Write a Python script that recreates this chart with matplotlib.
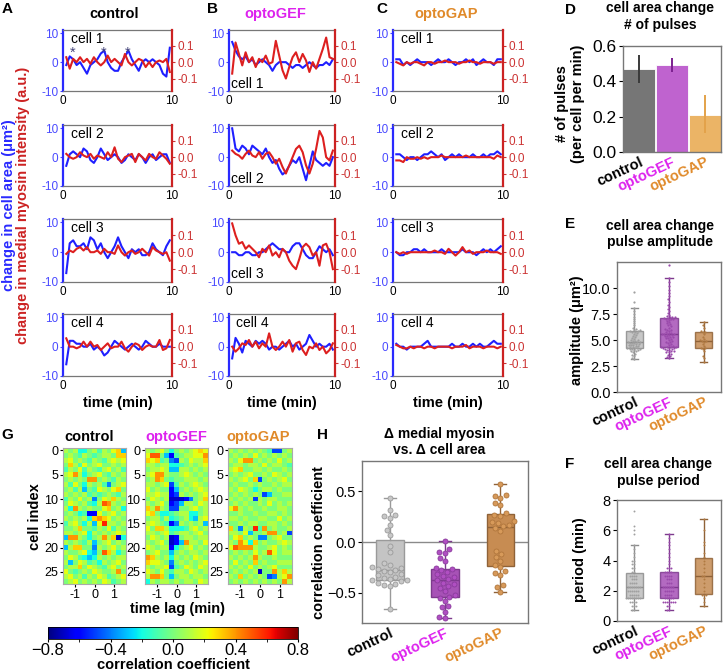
import numpy as np
import pandas as pd
import matplotlib
matplotlib.use('Agg')
import matplotlib.pyplot as plt
import seaborn as sns
from matplotlib.ticker import FixedLocator

plt.rcParams['font.family'] = ['Liberation Sans', 'DejaVu Sans']

# ---------------- data ----------------
groups = ['control', 'optoGEF', 'optoGAP']
group_text_colors = ['black', '#dd22ee', '#e08a2a']

time_min = np.linspace(0.3, 9.8, 31)
cell_names = ['cell 1', 'cell 2', 'cell 3', 'cell 4']
pulse_times = [0.85, 3.7, 5.9]   # asterisks on control cell 1

# change in cell area (um^2), 4 cells per group
ctrl_area = [
    [-1, 2, 1, -1, 0, -2, -4, -1, 0, 1, 3, 4, 0, -2, -3, -3, 0, 2, 4, 1, -1, -3, 0, 1, 0, 1, 0, -1, -4, -5, 5],
    [-3, 1, 2, 1, 0, 3, 2, -1, -2, 0, 3, 1, -1, 0, 1, 0, -2, -1, 1, 0, -1, 1, 0, -2, 0, 1, -1, 0, 1, 1, -2],
    [-7, 3, 4, 2, 2, 3, 1, 5, 4, 1, 3, 0, -2, 0, 2, 5, 2, 0, -2, 1, 0, 1, -1, -1, 0, 3, 1, 0, -1, 2, 4],
    [-6, 2, 2, 1, 1, 0, 0, 1, -1, 0, -1, -3, -2, 0, 2, 1, 0, -1, 0, 1, 0, -1, 0, 2, 1, 0, 0, 1, 0, 0, 0],
]
gef_area = [
    [7, 4, 2, 1, 2, 0, 1, -1, 0, 1, 0, -1, -3, -1, 0, 0, 0, -1, -2, -1, -1, -2, -1, 0, -1, -2, -1, -1, 0, -1, 1],
    [10, 3, 2, 4, 3, 1, 4, 3, 2, 1, 3, 0, -2, -1, -4, -6, -5, -3, -1, -2, 0, -4, -8, -3, 2, -1, -2, -3, -2, -3, 0],
    [0, 0, -1, -1, 0, 0, -1, -1, 0, 0, 1, 2, 3, 2, 1, 1, 0, 0, 2, 3, 3, 1, -1, -2, -2, 0, 2, 1, 0, 1, -1],
    [-4, 3, 1, -2, 2, 1, 0, 2, 1, 2, 1, -1, 0, 0, -1, 0, 1, 2, 0, 1, -1, 0, 1, 4, 2, 0, 1, 0, 0, 1, -1],
]
gap_area = [
    [1, 1, -1, 0, -1, 0, 1, 0, 0, 0, -1, 0, 1, 0, 0, 1, 0, -1, 0, 0, 1, 0, 1, -1, 0, 1, 0, 0, -1, 1, 1],
    [1, 1, 0, -1, 0, 0, -1, 0, 1, 1, 2, 1, 0, 1, -1, 0, 1, 0, 1, 0, 0, 0, 1, 0, 0, 1, 0, 1, 1, 2, 1],
    [0, -1, -1, 0, 0, 1, 1, 0, 1, 0, 0, 0, 0, 1, 0, 0, 0, 0, 0, 1, 0, 0, 0, -1, 0, 1, 0, 1, 0, 1, 2],
    [1, 0, 0, -1, 0, 0, 0, 0, 1, 2, 0, 0, 0, 0, 0, 0, 1, 0, 0, 1, 0, 0, 1, 0, 1, 0, 0, 1, 2, 1, 1],
]
# change in medial myosin intensity (a.u.)
ctrl_myo = [
    [0.03, -0.04, 0.02, 0.0, 0.03, 0.0, 0.02, -0.01, 0.03, 0.0, -0.02, 0.0, 0.04, 0.0, 0.02, 0.0, -0.02, 0.05, 0.0, -0.02, 0.0, 0.02, 0.01, -0.03, 0.0, -0.03, 0.0, 0.01, 0.0, 0.02, -0.06],
    [0.02, 0.0, -0.01, 0.0, 0.03, 0.01, 0.0, 0.02, -0.01, 0.01, 0.0, -0.01, 0.03, 0.0, 0.06, -0.01, -0.03, 0.0, 0.01, 0.02, -0.03, 0.02, 0.0, -0.02, 0.02, 0.0, -0.01, 0.03, 0.01, -0.01, -0.04],
    [-0.01, 0.01, 0.0, 0.02, 0.03, 0.01, 0.03, 0.0, 0.0, 0.01, -0.01, 0.02, 0.0, 0.0, -0.01, 0.04, 0.0, -0.02, 0.0, 0.01, -0.01, 0.0, 0.02, 0.0, -0.02, 0.03, 0.01, 0.0, -0.01, 0.0, -0.05],
    [0.05, 0.0, 0.0, -0.01, 0.0, 0.03, 0.0, 0.03, 0.0, 0.01, -0.02, 0.0, 0.02, -0.01, 0.0, 0.0, 0.03, -0.01, -0.03, 0.0, 0.02, 0.01, -0.02, 0.0, 0.01, 0.0, 0.0, 0.04, -0.02, -0.01, 0.04],
]
gef_myo = [
    [-0.07, 0.12, 0.05, -0.02, 0.06, 0.0, 0.03, -0.03, 0.02, 0.0, 0.04, -0.01, 0.0, 0.13, 0.04, -0.05, -0.1, -0.03, 0.03, 0.06, 0.0, 0.05, 0.01, -0.06, 0.0, -0.04, 0.02, 0.08, 0.15, 0.03, 0.02],
    [0.04, 0.02, 0.01, -0.01, 0.02, 0.04, 0.01, 0.0, 0.03, -0.01, 0.02, 0.03, 0.0, -0.04, -0.01, -0.06, -0.1, -0.05, 0.0, 0.05, 0.07, 0.03, -0.05, -0.1, -0.04, 0.05, 0.16, 0.12, 0.0, -0.02, 0.04],
    [0.17, 0.1, 0.05, 0.06, 0.02, 0.04, 0.02, 0.0, -0.03, 0.02, 0.0, 0.04, -0.02, 0.0, -0.03, 0.02, 0.0, -0.05, -0.08, -0.1, -0.04, 0.03, 0.05, 0.03, -0.02, 0.0, -0.08, 0.04, 0.05, 0.0, -0.1],
    [0.0, -0.03, -0.01, 0.02, 0.01, 0.04, 0.0, 0.03, -0.01, 0.02, 0.0, 0.08, 0.0, -0.02, 0.0, 0.03, 0.0, 0.04, -0.03, 0.02, 0.03, -0.02, -0.05, 0.0, -0.01, 0.02, -0.02, 0.0, -0.04, -0.02, 0.02],
]
gap_myo = [
    [0.0, -0.01, -0.02, 0.0, -0.01, 0.0, 0.0, -0.01, -0.02, 0.0, 0.0, -0.01, 0.0, 0.0, 0.01, 0.0, 0.0, 0.0, -0.01, 0.0, 0.0, 0.01, 0.0, 0.0, -0.01, 0.0, 0.0, 0.0, -0.01, 0.0, 0.0],
    [-0.02, -0.02, -0.03, 0.0, -0.01, -0.01, 0.0, -0.01, 0.0, -0.01, 0.0, 0.0, 0.0, 0.01, 0.0, 0.0, 0.0, 0.0, 0.0, 0.0, 0.01, 0.0, 0.0, 0.0, 0.0, 0.0, 0.0, 0.0, -0.01, 0.01, 0.0],
    [0.0, -0.01, 0.0, -0.01, 0.0, 0.0, 0.0, 0.0, 0.0, 0.0, 0.0, 0.01, 0.0, 0.0, -0.01, 0.02, 0.0, -0.02, 0.0, 0.03, 0.0, 0.01, -0.01, 0.0, 0.0, 0.0, 0.01, 0.0, 0.0, 0.0, -0.01],
    [0.01, 0.0, -0.01, -0.01, 0.0, -0.01, 0.0, 0.0, -0.01, 0.0, 0.0, -0.01, 0.0, 0.0, 0.0, 0.0, -0.01, 0.0, 0.0, 0.0, 0.01, -0.01, 0.0, 0.0, 0.0, -0.01, 0.0, 0.0, 0.0, -0.01, 0.0],
]

# D: pulses per cell per min
pulse_mean = [0.47, 0.49, 0.21]
pulse_lo = [0.39, 0.45, 0.11]
pulse_hi = [0.55, 0.53, 0.32]

# E: pulse amplitude (um^2)
ctrl_amp = [3.2, 3.3, 3.5, 3.6, 3.7, 3.8, 3.9, 3.9, 4.0, 4.0, 4.1, 4.1, 4.1, 4.2, 4.2, 4.2, 4.3, 4.3, 4.4, 4.4,
            4.5, 4.5, 4.5, 4.6, 4.6, 4.7, 4.7, 4.7, 4.8, 4.8, 4.8, 4.9, 4.9, 5.0, 5.0, 5.1, 5.2, 5.3, 5.4, 5.5,
            5.6, 5.7, 5.8, 5.8, 5.9, 5.9, 6.0, 6.0, 6.1, 6.2, 6.4, 6.6, 6.8, 7.0, 7.2, 7.5, 7.8, 8.1, 8.7, 9.6]
gef_amp = [3.3, 3.4, 3.5, 3.6, 3.7, 3.8, 3.8, 3.9, 3.9, 4.0, 4.0, 4.1, 4.1, 4.2, 4.2, 4.2, 4.3, 4.3, 4.3, 4.3,
           4.4, 4.5, 4.6, 4.7, 4.8, 4.9, 5.0, 5.1, 5.2, 5.3, 5.3, 5.4, 5.4, 5.5, 5.5, 5.6, 5.6, 5.6, 5.6, 5.7,
           5.7, 5.8, 5.9, 6.0, 6.1, 6.2, 6.3, 6.4, 6.5, 6.6, 6.7, 6.8, 6.9, 7.0, 7.0, 7.1, 7.1, 7.2, 7.2, 7.2,
           7.3, 7.4, 7.6, 7.8, 8.0, 8.2, 8.4, 8.7, 8.9, 9.2, 9.5, 9.8, 10.2, 10.6, 11.0, 12.2, 6.0, 5.2, 4.8, 7.0]
gap_amp = [2.9, 3.3, 3.5, 3.9, 4.1, 4.2, 4.2, 4.4, 4.6, 4.8, 4.9, 4.9, 5.0, 5.1, 5.3, 5.6, 5.8, 5.8, 5.9, 6.2, 6.4, 6.7]

# F: pulse period (min)
ctrl_period = [0.75, 0.75, 1.0, 1.0, 1.0, 1.25, 1.25, 1.25, 1.25, 1.5, 1.5, 1.5, 1.5, 1.5, 1.5, 1.5, 1.5,
               1.75, 1.75, 1.75, 1.75, 1.75, 2.0, 2.0, 2.0, 2.0, 2.0, 2.0, 2.25, 2.25, 2.25, 2.25, 2.25, 2.25,
               2.25, 2.5, 2.5, 2.5, 2.5, 2.75, 2.75, 2.75, 3.0, 3.0, 3.0, 3.0, 3.25, 3.25, 3.5, 3.5, 3.75,
               3.75, 4.0, 4.0, 4.25, 4.5, 4.75, 5.0, 5.75, 6.0, 6.25, 7.25]
gef_period = [0.75, 0.75, 1.0, 1.0, 1.25, 1.25, 1.25, 1.25, 1.25, 1.25, 1.25, 1.5, 1.5, 1.5, 1.5, 1.5,
              1.75, 1.75, 1.75, 1.75, 2.0, 2.0, 2.0, 2.0, 2.0, 2.25, 2.25, 2.25, 2.25, 2.25, 2.25, 2.5,
              2.5, 2.5, 2.75, 2.75, 2.75, 3.0, 3.0, 3.0, 3.0, 3.25, 3.25, 3.25, 3.25, 3.5, 3.5, 3.5, 3.75,
              4.0, 4.25, 4.5, 4.75, 5.0, 5.25, 5.5, 5.75]
gap_period = [1.0, 1.25, 1.5, 1.75, 1.75, 1.75, 2.0, 2.25, 2.5, 2.75, 3.0, 3.0, 3.25, 3.5, 3.75, 4.0,
              4.25, 4.5, 5.0, 5.25, 6.0, 6.75]

# H: correlation coefficient, medial myosin vs cell area
ctrl_corr = [0.43, 0.32, 0.27, 0.26, 0.24, 0.17, 0.12, 0.07, -0.04, -0.10, -0.21, -0.23, -0.25, -0.26,
             -0.27, -0.28, -0.29, -0.30, -0.32, -0.33, -0.35, -0.36, -0.37, -0.38, -0.38, -0.39, -0.40,
             -0.41, -0.42, -0.43, -0.66]
gef_corr = [0.01, -0.07, -0.10, -0.11, -0.16, -0.19, -0.26, -0.27, -0.28, -0.30, -0.32, -0.34, -0.35,
            -0.37, -0.38, -0.40, -0.41, -0.43, -0.45, -0.48, -0.52, -0.54, -0.55, -0.58, -0.63, -0.64,
            -0.69, -0.74, -0.75]
gap_corr = [0.57, 0.46, 0.45, 0.43, 0.39, 0.37, 0.29, 0.27, 0.26, 0.21, 0.20, 0.19, 0.17, 0.16, 0.14,
            0.11, -0.09, -0.12, -0.15, -0.19, -0.23, -0.25, -0.29, -0.31, -0.33, -0.42, -0.44, -0.49]

# G: cross-correlation per cell (rows) vs time lag (columns)
lag_min = [-1.5, -1.25, -1.0, -0.75, -0.5, -0.25, 0.0, 0.25, 0.5, 0.75, 1.0, 1.25, 1.5]
ctrl_xcorr = [
    [0.1, 0.0, 0.1, -0.2, -0.2, 0.0, 0.1, -0.1, 0.1, 0.0, 0.2, 0.3, -0.3],
    [0.0, 0.1, 0.0, -0.1, 0.1, 0.0, -0.1, 0.0, 0.1, 0.1, 0.0, 0.3, 0.3],
    [0.1, 0.2, 0.0, 0.1, 0.0, -0.1, 0.1, 0.0, -0.1, 0.1, 0.2, 0.1, 0.2],
    [0.0, 0.3, 0.1, -0.1, 0.2, 0.0, 0.1, 0.2, 0.0, 0.0, 0.1, 0.0, 0.1],
    [-0.1, 0.1, 0.0, 0.2, -0.1, 0.1, 0.0, -0.1, 0.1, 0.2, 0.0, 0.1, -0.1],
    [0.1, 0.2, 0.4, 0.1, -0.2, 0.0, 0.1, 0.2, 0.0, -0.1, 0.1, 0.0, 0.1],
    [0.0, 0.1, 0.0, 0.1, 0.0, 0.4, 0.4, 0.0, 0.1, 0.0, -0.1, 0.1, 0.0],
    [0.1, -0.1, 0.2, 0.0, -0.2, 0.1, 0.0, 0.1, -0.1, -0.4, 0.0, 0.1, 0.2],
    [0.0, 0.1, -0.1, 0.1, -0.3, 0.0, -0.1, 0.2, 0.1, 0.0, 0.2, 0.3, 0.0],
    [0.1, 0.0, 0.1, 0.0, 0.1, -0.1, 0.0, -0.1, 0.0, 0.1, 0.0, -0.1, 0.1],
    [-0.1, 0.1, 0.0, 0.2, 0.0, 0.1, -0.4, 0.0, 0.2, 0.1, 0.3, 0.1, 0.0],
    [0.0, 0.2, 0.1, 0.0, 0.1, -0.1, -0.2, 0.1, 0.5, 0.4, 0.1, 0.0, 0.1],
    [0.1, -0.2, 0.4, 0.1, 0.0, 0.1, 0.0, 0.0, 0.2, 0.3, 0.0, 0.1, -0.2],
    [0.0, 0.1, 0.0, -0.2, -0.1, -0.6, -0.6, 0.2, 0.0, 0.1, 0.2, 0.0, 0.1],
    [0.1, 0.0, 0.1, 0.0, 0.1, -0.2, 0.3, 0.4, 0.3, 0.2, 0.0, 0.1, 0.0],
    [-0.1, 0.1, 0.2, 0.0, -0.2, 0.1, -0.3, 0.2, 0.6, 0.1, 0.1, 0.0, 0.1],
    [0.0, 0.0, 0.1, 0.3, 0.0, 0.0, -0.1, 0.1, 0.0, 0.2, -0.1, 0.1, 0.0],
    [0.1, 0.1, 0.0, 0.1, 0.2, -0.2, 0.1, 0.0, 0.1, 0.0, 0.1, 0.2, 0.1],
    [-0.3, 0.4, 0.4, 0.1, 0.0, -0.2, 0.0, 0.1, 0.4, 0.1, 0.3, -0.7, -0.2],
    [0.1, 0.0, 0.1, 0.0, -0.1, 0.1, -0.3, 0.0, 0.1, 0.2, 0.0, 0.1, 0.0],
    [-0.3, 0.1, 0.3, 0.3, 0.0, 0.0, -0.4, 0.1, 0.0, 0.1, 0.2, 0.0, 0.1],
    [0.1, 0.0, 0.0, 0.1, 0.2, -0.2, -0.3, 0.0, 0.5, 0.3, 0.1, -0.2, 0.0],
    [0.0, 0.2, 0.1, -0.1, -0.2, -0.3, -0.2, 0.1, 0.0, 0.1, 0.0, 0.1, 0.1],
    [0.1, -0.3, 0.0, 0.2, 0.1, -0.1, 0.0, -0.2, 0.1, 0.0, 0.1, 0.2, 0.0],
    [0.0, 0.1, 0.1, 0.3, 0.0, 0.2, 0.1, 0.0, -0.1, 0.1, 0.2, 0.0, 0.1],
    [0.2, 0.0, -0.1, 0.0, 0.1, 0.0, 0.2, 0.1, 0.0, 0.0, 0.1, 0.4, 0.0],
    [0.1, 0.2, 0.0, 0.1, -0.1, 0.1, 0.0, 0.2, 0.1, -0.1, 0.0, 0.1, 0.2],
    [0.0, 0.1, 0.2, 0.0, 0.1, 0.0, 0.1, 0.0, 0.2, 0.1, -0.1, 0.0, 0.1],
]
gef_xcorr = [
    [0.1, 0.0, 0.1, 0.2, 0.0, -0.2, 0.0, 0.1, 0.0, 0.1, 0.2, 0.3, 0.2],
    [0.2, 0.5, 0.5, 0.0, -0.3, -0.6, -0.1, 0.0, 0.1, 0.1, 0.2, 0.2, 0.4],
    [0.3, 0.2, 0.3, -0.1, 0.0, -0.4, -0.5, 0.1, 0.0, 0.2, 0.1, 0.1, 0.3],
    [0.1, 0.1, 0.0, 0.1, 0.1, -0.2, -0.2, -0.1, 0.0, 0.1, 0.0, 0.1, 0.2],
    [0.0, 0.1, 0.1, 0.2, 0.1, -0.3, -0.3, 0.1, 0.1, 0.0, 0.1, 0.0, 0.1],
    [0.1, 0.2, 0.4, 0.4, 0.1, 0.0, 0.0, 0.1, 0.2, 0.1, 0.0, 0.1, 0.0],
    [0.0, 0.1, 0.4, 0.3, 0.0, -0.1, 0.0, 0.0, 0.1, 0.1, 0.1, 0.0, 0.1],
    [0.1, 0.1, 0.0, 0.1, 0.2, -0.5, -0.1, 0.1, 0.0, 0.1, 0.2, 0.1, 0.0],
    [0.2, 0.0, 0.1, 0.0, 0.0, -0.6, -0.3, 0.0, 0.1, 0.0, 0.1, 0.2, 0.1],
    [0.1, 0.1, 0.2, 0.1, 0.1, -0.6, -0.5, 0.1, 0.0, 0.1, 0.0, 0.1, 0.2],
    [0.0, 0.2, 0.1, 0.0, 0.1, -0.7, -0.7, -0.7, -0.6, -0.4, 0.0, 0.1, 0.3],
    [0.1, 0.0, 0.1, 0.2, 0.0, -0.6, -0.5, -0.3, 0.1, 0.1, 0.0, 0.2, 0.1],
    [0.3, 0.1, 0.4, 0.1, 0.0, -0.5, -0.5, 0.0, 0.0, 0.1, 0.2, 0.0, 0.1],
    [0.2, 0.3, 0.0, -0.2, -0.2, -0.1, 0.0, 0.1, 0.1, -0.2, -0.2, 0.0, 0.1],
    [0.0, 0.1, 0.1, -0.1, 0.1, -0.2, -0.1, 0.0, 0.1, -0.2, -0.3, 0.1, 0.2],
    [0.1, 0.2, 0.1, 0.0, -0.1, -0.6, -0.4, 0.1, 0.0, 0.1, 0.0, 0.1, -0.3],
    [0.2, 0.0, 0.3, 0.3, 0.1, -0.2, -0.2, -0.2, -0.1, 0.1, 0.2, 0.0, 0.1],
    [0.1, 0.1, 0.0, 0.1, 0.2, -0.1, 0.0, 0.1, 0.1, 0.0, 0.1, 0.2, 0.0],
    [0.0, 0.2, 0.1, 0.0, 0.1, -0.7, -0.6, 0.0, 0.1, 0.1, 0.0, 0.1, 0.1],
    [0.1, 0.0, 0.1, 0.2, 0.0, -0.7, -0.6, -0.3, 0.4, 0.1, 0.1, 0.0, 0.2],
    [0.2, 0.1, 0.0, 0.1, 0.1, -0.6, -0.2, 0.0, 0.1, 0.2, 0.0, 0.1, 0.0],
    [0.0, 0.1, 0.2, 0.0, 0.0, -0.3, 0.0, 0.1, 0.0, 0.1, 0.1, 0.0, 0.1],
    [0.4, 0.3, 0.1, 0.0, 0.1, -0.2, 0.1, 0.0, 0.1, 0.0, 0.2, 0.1, 0.0],
    [0.3, 0.2, 0.2, 0.1, 0.0, -0.4, 0.0, 0.1, 0.0, 0.1, 0.0, 0.1, 0.2],
    [0.1, 0.0, 0.1, 0.1, 0.2, -0.5, -0.1, 0.0, 0.2, 0.1, 0.0, 0.2, 0.1],
    [0.2, 0.1, 0.0, 0.2, 0.0, -0.1, 0.1, 0.1, 0.0, 0.2, 0.1, 0.0, 0.1],
    [0.1, 0.4, 0.4, 0.3, 0.0, -0.3, 0.0, 0.1, 0.1, 0.0, 0.1, 0.1, 0.0],
    [-0.2, 0.1, 0.0, 0.1, 0.1, 0.0, 0.1, 0.0, 0.1, 0.1, 0.0, 0.2, 0.1],
]
gap_xcorr = [
    [0.1, 0.0, 0.1, 0.0, 0.1, 0.0, 0.1, 0.0, -0.1, -0.5, -0.5, 0.0, 0.1],
    [0.0, 0.1, 0.0, 0.1, 0.0, 0.2, 0.0, 0.1, 0.0, 0.1, 0.0, 0.1, 0.0],
    [0.1, 0.0, 0.2, 0.4, 0.4, 0.0, 0.1, 0.0, 0.1, 0.0, 0.2, 0.0, 0.1],
    [0.0, 0.1, 0.1, 0.0, 0.1, 0.1, 0.0, 0.2, 0.0, 0.1, 0.1, 0.0, -0.1],
    [0.1, 0.2, 0.3, 0.0, 0.0, 0.1, 0.1, 0.0, 0.1, 0.0, 0.0, 0.1, 0.0],
    [0.0, 0.1, 0.0, 0.1, 0.2, 0.0, 0.0, 0.1, 0.0, 0.2, 0.1, 0.0, 0.1],
    [0.1, 0.0, 0.1, 0.2, 0.0, 0.3, -0.5, 0.0, 0.1, 0.0, 0.1, 0.2, 0.0],
    [0.0, 0.1, 0.0, 0.0, 0.1, 0.0, 0.1, 0.0, 0.0, 0.1, 0.0, 0.1, 0.1],
    [0.1, 0.0, 0.2, 0.1, 0.0, -0.2, 0.0, 0.1, 0.1, 0.0, 0.1, 0.0, 0.0],
    [0.0, 0.1, 0.0, 0.1, 0.0, 0.1, 0.0, -0.5, -0.3, 0.0, 0.0, 0.1, 0.1],
    [0.1, 0.0, 0.1, 0.0, 0.1, -0.5, 0.1, 0.0, 0.1, 0.1, 0.0, 0.0, 0.0],
    [0.0, 0.1, 0.0, 0.1, 0.0, 0.0, 0.1, 0.0, 0.2, 0.0, 0.1, 0.0, 0.1],
    [0.2, 0.4, 0.1, 0.0, 0.1, 0.0, 0.0, 0.1, 0.0, 0.0, 0.1, 0.1, 0.0],
    [0.0, 0.0, 0.1, 0.0, 0.0, 0.1, 0.0, 0.0, 0.1, 0.1, 0.0, 0.1, 0.0],
    [0.1, 0.1, 0.0, 0.1, 0.0, 0.0, 0.1, 0.1, 0.0, 0.0, 0.2, 0.0, 0.1],
    [0.0, 0.0, 0.1, 0.0, 0.1, 0.1, 0.0, 0.0, 0.1, 0.1, 0.0, 0.1, 0.0],
    [0.3, 0.0, -0.4, 0.1, 0.0, 0.6, -0.1, 0.4, 0.0, 0.1, 0.0, 0.0, 0.1],
    [0.1, 0.1, 0.0, 0.2, -0.3, 0.0, 0.0, 0.1, 0.4, 0.4, 0.0, 0.1, -0.5],
    [0.0, 0.2, 0.3, 0.0, 0.1, 0.0, -0.4, -0.4, 0.0, 0.1, 0.2, 0.0, 0.0],
    [0.1, 0.0, 0.4, 0.2, -0.2, 0.3, 0.0, 0.1, 0.0, 0.0, 0.1, 0.2, 0.1],
    [0.2, 0.5, 0.4, 0.4, 0.4, 0.1, 0.0, 0.0, 0.1, 0.2, 0.0, 0.1, 0.0],
    [0.0, 0.1, 0.0, 0.1, 0.0, 0.2, 0.0, 0.1, 0.5, 0.2, 0.0, 0.1, 0.1],
    [0.1, 0.0, 0.1, 0.0, 0.1, 0.4, 0.1, 0.0, 0.0, 0.1, 0.0, 0.0, 0.0],
    [0.0, 0.2, 0.0, 0.1, 0.0, 0.3, 0.0, 0.1, 0.0, 0.0, 0.1, 0.1, 0.1],
    [0.1, 0.0, 0.1, 0.0, 0.2, 0.0, 0.1, 0.0, 0.1, 0.2, 0.0, 0.0, 0.0],
    [0.0, 0.1, 0.0, 0.1, 0.0, 0.1, -0.7, 0.0, 0.0, 0.4, 0.1, 0.3, 0.1],
    [0.1, 0.0, 0.3, 0.0, 0.1, 0.0, 0.1, 0.0, -0.5, -0.4, 0.1, 0.2, 0.4],
    [0.0, 0.1, 0.0, 0.1, 0.0, 0.1, 0.0, 0.1, 0.0, 0.1, 0.0, 0.4, 0.1],
]

# ---------------- figure ----------------
W, H = 727, 671
fig = plt.figure(figsize=(W / 100, H / 100), dpi=100)


def add_ax(x0, y0, x1, y1):
    # pixel box (top-left origin) -> figure fraction
    return fig.add_axes([x0 / W, 1 - y1 / H, (x1 - x0) / W, (y1 - y0) / H])


def ftext(x, y, s, **kw):
    fig.text(x / W, 1 - y / H, s, **kw)


BLUE, RED = '#1f1fff', '#dd1f1f'
GRAY_SPINE = '#777777'

# ---- A, B, C: time traces ----
col_x = [(63, 172), (229, 335), (393, 503)]
row_y = [(30, 91), (125, 186), (219, 282), (314, 376)]
area_sets = [ctrl_area, gef_area, gap_area]
myo_sets = [ctrl_myo, gef_myo, gap_myo]
title_x = [114, 275, 446]

for gi in range(3):
    x0, x1 = col_x[gi]
    for ci in range(4):
        y0, y1 = row_y[ci]
        ax = add_ax(x0, y0, x1, y1)
        ax2 = ax.twinx()
        ax.plot(time_min, area_sets[gi][ci], color=BLUE, lw=1.5)
        ax2.plot(time_min, myo_sets[gi][ci], color=RED, lw=1.5)
        ax.set_xlim(0, 10)
        ax.set_ylim(-10, 11.15)
        ax2.set_ylim(-0.176, 0.196)
        ax.set_xticks([0, 10], ['0', '10'])
        ax.set_yticks([-10, 0, 10], ['-10', '0', '10'])
        ax2.set_yticks([-0.1, 0, 0.1], ['-0.1', '0.0', '0.1'])
        ax.tick_params(axis='x', length=0, labelsize=8.5, pad=3)
        ax.tick_params(axis='y', colors='#4a4aff', labelsize=8.5, length=2, pad=1.5)
        ax2.tick_params(axis='y', colors='#cc3333', labelsize=8.5, length=2, pad=2)
        for s in ['top', 'bottom']:
            ax.spines[s].set_color(GRAY_SPINE)
            ax.spines[s].set_linewidth(0.9)
        ax.spines['left'].set_color('#2a2aff')
        ax.spines['left'].set_linewidth(1.6)
        ax.spines['right'].set_visible(False)
        for s in ['left', 'top', 'bottom']:
            ax2.spines[s].set_visible(False)
        ax2.spines['right'].set_color('#cc2222')
        ax2.spines['right'].set_linewidth(1.6)
        if gi == 1 and ci < 3:
            ax.text(0.02, 0.12, cell_names[ci], transform=ax.transAxes, fontsize=10, va='center')
        else:
            ax.text(0.07, 0.86, cell_names[ci], transform=ax.transAxes, fontsize=10, va='center')
        if gi == 0 and ci == 0:
            # drawn on the twin axes (with the area scale) so they stay above both traces
            for pt in pulse_times:
                ax2.text(pt, 3.2, '*', transform=ax.transData, color='#44447a', fontsize=10.5,
                         ha='center', va='center', zorder=10)
        if ci == 3:
            ax.set_xlabel('time (min)', fontsize=10.5, fontweight='bold', labelpad=3)
    ftext(title_x[gi], 14, groups[gi], color=group_text_colors[gi], fontsize=10.5,
          fontweight='bold', ha='center', va='center')

ftext(9, 205, 'change in cell area (μm²)', color='#2a2aff', fontsize=10.5, fontweight='bold',
      rotation=90, ha='center', va='center')
ftext(23, 205, 'change in medial myosin intensity (a.u.)', color='#cc2222', fontsize=10.5,
      fontweight='bold', rotation=90, ha='center', va='center')

# panel letters
for letter, (lx, ly) in zip('ABCDEFGH', [(7.5, 9), (213, 9), (382, 9), (571, 9.5), (570, 224),
                                          (570, 464), (7.5, 435), (322, 435)]):
    ftext(lx, ly, letter, fontsize=11, fontweight='bold', ha='center', va='center')


def style_box_axes(ax, labelsize):
    for s in ax.spines.values():
        s.set_color(GRAY_SPINE)
        s.set_linewidth(1.0)
    ax.tick_params(axis='y', labelsize=labelsize, length=3, pad=1.5)
    ax.tick_params(axis='x', length=0, pad=2)


def set_group_ticklabels(ax, size=10.5):
    ax.set_xticks([0, 1, 2])
    ax.set_xticklabels(groups, rotation=25, ha='right', rotation_mode='anchor',
                       fontweight='bold', fontsize=size)
    for lab, c in zip(ax.get_xticklabels(), group_text_colors):
        lab.set_color(c)
    ax.set_xlim(-0.5, 2.5)
    ax.set_xlabel('')


# ---- D: bar chart ----
axD = add_ax(623, 46, 721, 152)
axD.bar(range(3), pulse_mean, width=0.97, color=['#767676', '#bf63cf', '#ebb466'],
        edgecolor='white', linewidth=0.6)
axD.vlines(range(3), pulse_lo, pulse_hi, colors=['#3a3a3a', '#7c2090', '#e3a24a'], lw=1.4)
axD.set_ylim(0, 0.6)
axD.set_yticks([0.0, 0.2, 0.4, 0.6])
style_box_axes(axD, 12.5)
set_group_ticklabels(axD)
ftext(660, 8, 'cell area change', fontsize=10, fontweight='bold', ha='center', va='center')
ftext(660, 25, '# of pulses', fontsize=10, fontweight='bold', ha='center', va='center')
ftext(570, 104, '# of pulses\n(per cell per min)', fontsize=10.5, fontweight='bold',
      rotation=90, ha='center', va='center', linespacing=1.1)


def draw_boxes(ax, datasets, faces, edges, alpha):
    for i in range(3):
        ax.boxplot([datasets[i]], positions=[i], widths=0.5, patch_artist=True, showfliers=False,
                   manage_ticks=False, capwidths=0.22,
                   boxprops=dict(facecolor=faces[i], edgecolor=edges[i], alpha=alpha, lw=1),
                   medianprops=dict(color=edges[i], lw=1),
                   whiskerprops=dict(color=edges[i], lw=1),
                   capprops=dict(color=edges[i], lw=1))


def draw_swarm(ax, datasets, faces, edges, size, lw):
    for i in range(3):
        sns.swarmplot(x=[groups[i]] * len(datasets[i]), y=datasets[i], order=groups,
                      color=faces[i], edgecolor=edges[i], linewidth=lw, size=size, ax=ax,
                      warn_thresh=1.0)


box_faces = ['#bdbdbd', '#a650b6', '#c58b52']
box_edges = ['#8c8c8c', '#7d3a8d', '#8f6238']

# ---- E: amplitude ----
axE = add_ax(617, 262, 721, 392)
draw_boxes(axE, [ctrl_amp, gef_amp, gap_amp], box_faces, box_edges, 0.85)
draw_swarm(axE, [ctrl_amp, gef_amp, gap_amp], ['#a0a0a0', '#9a4aab', '#b07a42'],
           ['#a0a0a0', '#9a4aab', '#b07a42'], 1.6, 0)
axE.set_ylim(0, 12.5)
axE.set_yticks([0, 2.5, 5.0, 7.5, 10.0])
style_box_axes(axE, 10.5)
set_group_ticklabels(axE)
ftext(660, 226, 'cell area change', fontsize=10, fontweight='bold', ha='center', va='center')
ftext(660, 242, 'pulse amplitude', fontsize=10, fontweight='bold', ha='center', va='center')
ftext(577, 330, 'amplitude (μm²)', fontsize=10.5, fontweight='bold', rotation=90,
      ha='center', va='center')

# ---- F: period ----
axF = add_ax(617, 500, 721, 621)
draw_boxes(axF, [ctrl_period, gef_period, gap_period], box_faces, box_edges, 0.85)
draw_swarm(axF, [ctrl_period, gef_period, gap_period], ['#a0a0a0', '#9a4aab', '#b07a42'],
           ['#a0a0a0', '#9a4aab', '#b07a42'], 1.4, 0)
axF.set_ylim(0, 8)
axF.set_yticks([0, 2, 4, 6, 8])
style_box_axes(axF, 10.5)
set_group_ticklabels(axF)
ftext(658, 464, 'cell area change', fontsize=10, fontweight='bold', ha='center', va='center')
ftext(658, 481, 'pulse period', fontsize=10, fontweight='bold', ha='center', va='center')
ftext(580, 560, 'period (min)', fontsize=10.5, fontweight='bold', rotation=90,
      ha='center', va='center')

# ---- H: correlation coefficient ----
axH = add_ax(362, 461, 528, 623)
axH.axhline(0, color='#8a8a8a', lw=1, zorder=0.5)
draw_boxes(axH, [ctrl_corr, gef_corr, gap_corr], ['#c4c4c4', '#a752b6', '#c78c52'],
           ['#9a9a9a', '#7d3a8d', '#8f6238'], 1.0)
draw_swarm(axH, [ctrl_corr, gef_corr, gap_corr], ['#c8c8c8', '#b04fc2', '#d79a5a'],
           ['#9a9a9a', '#8a3a9c', '#b0763c'], 3.6, 0.6)
axH.set_ylim(-0.8, 0.8)
axH.set_yticks([-0.5, 0.0, 0.5])
style_box_axes(axH, 10.5)
set_group_ticklabels(axH)
ftext(439, 434, 'Δ medial myosin', fontsize=10, fontweight='bold', ha='center', va='center')
ftext(439, 450, 'vs. Δ cell area', fontsize=10, fontweight='bold', ha='center', va='center')
ftext(319, 543, 'correlation coefficient', fontsize=10.5, fontweight='bold', rotation=90,
      ha='center', va='center')

# ---- G: heatmaps ----
heat_x = [(63, 126), (145, 208), (228, 292)]
heat_sets = [ctrl_xcorr, gef_xcorr, gap_xcorr]
heat_title_x = [89.5, 176, 258]
half_step = (lag_min[1] - lag_min[0]) / 2
n_cells = len(ctrl_xcorr)
for gi in range(3):
    axG = add_ax(heat_x[gi][0], 448, heat_x[gi][1], 584)
    im = axG.imshow(np.array(heat_sets[gi]), cmap='jet', vmin=-0.8, vmax=0.8, aspect='auto',
                    interpolation='nearest',
                    extent=[lag_min[0] - half_step, lag_min[-1] + half_step, n_cells - 0.5, -0.5])
    axG.set_yticks([0, 5, 10, 15, 20, 25])
    axG.set_xticks([-1, 0, 1], ['-1', '0', '1'])
    axG.tick_params(labelsize=9, length=2, pad=1.5)
    for s in axG.spines.values():
        s.set_color('#aaaaaa')
        s.set_linewidth(0.8)
    ftext(heat_title_x[gi], 437, groups[gi], color=group_text_colors[gi], fontsize=10.5,
          fontweight='bold', ha='center', va='center')

ftext(35, 517, 'cell index', fontsize=10.5, fontweight='bold', rotation=90, ha='center', va='center')
ftext(177, 609, 'time lag (min)', fontsize=10.5, fontweight='bold', ha='center', va='center')

cax = add_ax(48, 627, 298, 639)
cb = fig.colorbar(im, cax=cax, orientation='horizontal', ticks=[-0.8, -0.4, 0.0, 0.4, 0.8])
cax.xaxis.set_minor_locator(FixedLocator([-0.6, -0.2, 0.2, 0.6]))
cax.tick_params(which='both', labelsize=12, length=2.5, pad=0.5)
cb.outline.set_linewidth(0.6)
ftext(173, 665, 'correlation coefficient', fontsize=10.5, fontweight='bold', ha='center', va='center')

fig.savefig('out.png', dpi=100)
